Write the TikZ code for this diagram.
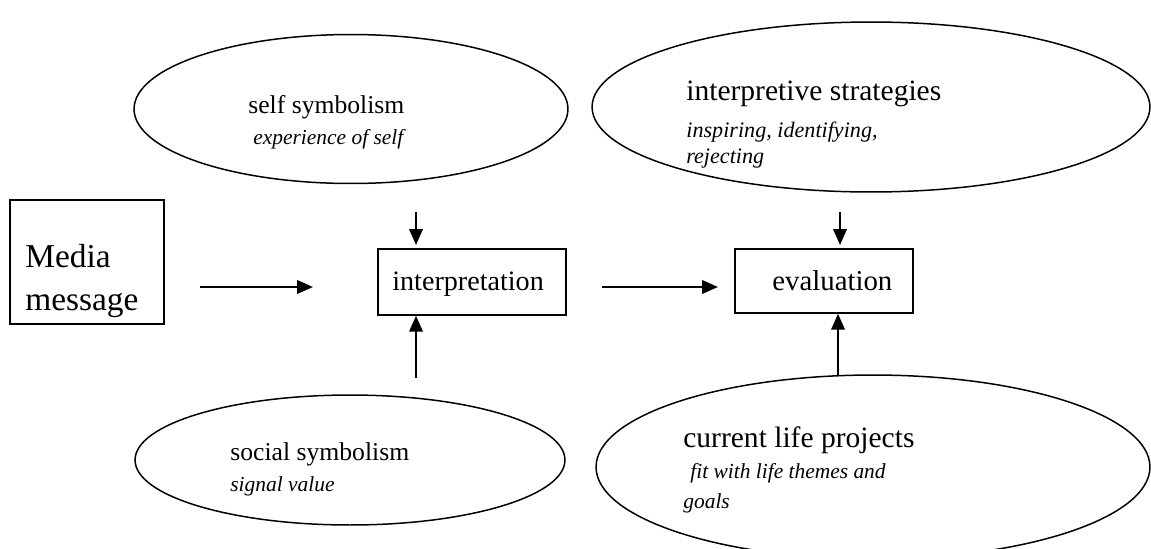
\documentclass[tikz,border=0pt]{standalone}
\usepackage{fontspec}
\setmainfont{Liberation Serif}
\usetikzlibrary{shapes.geometric,arrows.meta}

\tikzset{
  bubble/.style={draw, ellipse, line width=0.85pt, inner sep=0pt},
  box/.style={draw, rectangle, line width=0.85pt, inner sep=0pt},
  arr/.style={line width=1.3pt, -{Triangle[length=0.32cm,width=0.27cm]}},
  big/.style={font=\fontsize{#1}{#1}\selectfont, anchor=base west, inner sep=0pt},
  big/.default=14.6,
  small/.style={font=\fontsize{#1}{#1}\selectfont\itshape, anchor=base west, inner sep=0pt},
  small/.default=12.2,
}

\begin{document}
\begin{tikzpicture}[x=0.02cm, y=-0.02cm]
    \useasboundingbox (0,0) rectangle (1151,548);
    \clip (0,0) rectangle (1151,548);

    % ellipses
    \node[bubble, minimum width=8.68cm, minimum height=2.98cm] (self) at (351,109) {};
    \node[bubble, minimum width=11.16cm, minimum height=3.4cm] (strat) at (871,107) {};
    \node[bubble, minimum width=8.6cm, minimum height=2.6cm] (social) at (350,460) {};
    \node[bubble, minimum width=11.08cm, minimum height=3.68cm] (proj) at (873,467) {};

    \node[big] (selft) at (248,113) {self symbolism};
    \node[small] (selfs) at (253,144) {experience of self};
    \node[big=16.8] (stratt) at (686,100) {interpretive strategies};
    \node[small=12.6] (strats) at (686,137) {inspiring, identifying,};
    \node[small=12.6] (stratr) at (686,163) {rejecting};
    \node[big] (socialt) at (230,460) {social symbolism};
    \node[small] (socials) at (230,491) {signal value};
    \node[big=16.8] (projt) at (683,447) {current life projects};
    \node[small] (projs) at (690,478) {fit with life themes and};
    \node[small] (projg) at (683,508) {goals};

    % boxes
    \node[box, minimum width=3.08cm, minimum height=2.48cm] (media) at (87,262) {};
    \node[big=19] (mediat) at (25,267) {Media};
    \node[big=19] (mediam) at (25,310) {message};
    \node[box, minimum width=3.76cm, minimum height=1.32cm] (interp) at (472,282) {};
    \node[big=16] (interpt) at (392,290) {interpretation};
    \node[box, minimum width=3.56cm, minimum height=1.28cm] (eval) at (824,281) {};
    \node[big=16.4] (evalt) at (772,290) {evaluation};

    % arrows
    \coordinate (h1) at (200,287);
    \coordinate (h2) at (313,287);
    \coordinate (h3) at (602,287);
    \coordinate (h4) at (718,287);
    \coordinate (d1) at (416,212);
    \coordinate (d2) at (840,212);
    \coordinate (u1) at (416,378);
    \coordinate (u2) at (838,376);

    \draw[arr] (h1) -- (h2);
    \draw[arr] (h3) -- (h4);
    \draw[arr] (d1) -- (d1 |- 0,245);
    \draw[arr] (d2) -- (d2 |- 0,245);
    \draw[arr] (u1) -- (u1 |- interp.south);
    \draw[arr] (u2) -- (u2 |- eval.south);
\end{tikzpicture}
\end{document}
